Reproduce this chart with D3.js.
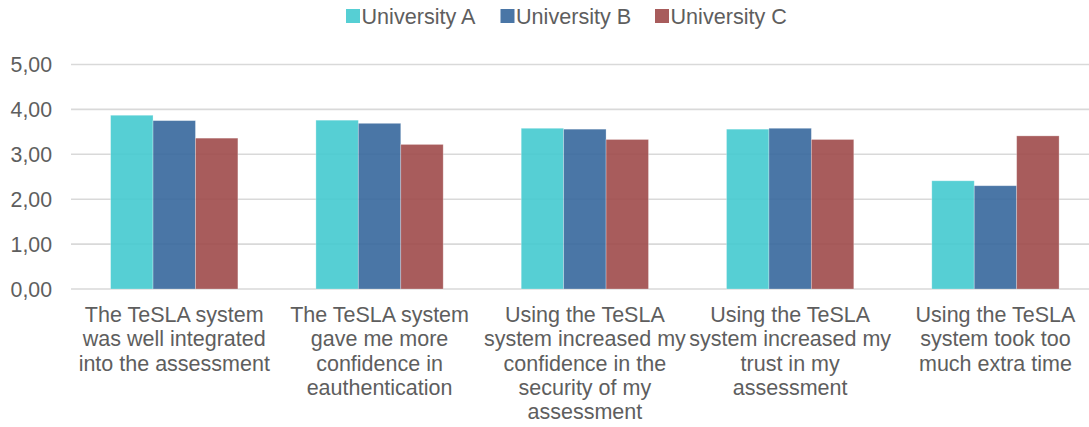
<!DOCTYPE html>
<html><head><meta charset="utf-8">
<script src="https://cdn.jsdelivr.net/npm/d3@7/dist/d3.min.js"></script>
<style>
html,body{margin:0;padding:0;background:#fff;}
svg text{font-family:"Liberation Sans",Arial,sans-serif;fill:#5e5e5e;}
</style></head>
<body>
<svg id="chart" width="1089" height="427"></svg>
<script>
const categories = [
  ["The TeSLA system","was well integrated","into the assessment"],
  ["The TeSLA system","gave me more","confidence in","eauthentication"],
  ["Using the TeSLA","system increased my","confidence in the","security of my","assessment"],
  ["Using the TeSLA","system increased my","trust in my","assessment"],
  ["Using the TeSLA","system took too","much extra time"]
];
const seriesNames = ["University A","University B","University C"];
const universityA = [3.87, 3.76, 3.58, 3.56, 2.41];
const universityB = [3.75, 3.69, 3.56, 3.58, 2.30];
const universityC = [3.36, 3.22, 3.33, 3.33, 3.41];
const yTicks = [0,1,2,3,4,5];
const colors = ["#44CACF","#36679C","#9E4A4A"];

const seriesValues = [universityA, universityB, universityC];
const svg = d3.select("#chart");
const idx = d3.range(categories.length);

const x0 = d3.scaleBand().domain(idx).range([71.6, 1098.1]).paddingInner(0.38).paddingOuter(0.19);
const x1 = d3.scaleBand().domain(d3.range(seriesNames.length)).range([0, x0.bandwidth()]);
const y = d3.scaleLinear().domain([0,5]).range([289, 64.5]);

// gridlines
svg.append("g").selectAll("line").data(yTicks).join("line")
  .attr("x1", 71).attr("x2", 1089)
  .attr("y1", d => y(d)).attr("y2", d => y(d))
  .attr("stroke", "#d9d9d9").attr("stroke-width", 1.6);

// y axis labels
const fmt = d => d3.format(".2f")(d).replace(".", ",");
svg.append("g").selectAll("text").data(yTicks).join("text")
  .attr("x", 52).attr("y", d => y(d)).attr("dy", "0.36em")
  .attr("text-anchor", "end").style("font-size", "21.3px")
  .text(fmt);

// bars
const groups = svg.append("g").selectAll("g").data(idx).join("g")
  .attr("transform", i => `translate(${x0(i)},0)`);
groups.selectAll("rect").data(i => seriesValues.map((s, k) => ({k, v: s[i]}))).join("rect")
  .attr("x", d => x1(d.k)).attr("width", x1.bandwidth())
  .attr("y", d => y(d.v)).attr("height", d => y(0) - y(d.v))
  .attr("fill", d => colors[d.k]).attr("fill-opacity", 0.9)
  .attr("stroke", "#ffffff").attr("stroke-opacity", 0.35).attr("stroke-width", 0.8);

// x labels
const xl = svg.append("g").selectAll("text").data(idx).join("text")
  .attr("text-anchor", "middle").style("font-size", "21.5px")
  .attr("transform", i => `translate(${x0(i) + x0.bandwidth()/2},322)`);
xl.selectAll("tspan").data(i => categories[i]).join("tspan")
  .attr("x", 0).attr("y", (d, j) => j * 24.3).text(d => d);

// legend
const legendX = [346, 500.5, 655];
const lg = svg.append("g").selectAll("g").data(seriesNames).join("g")
  .attr("transform", (d, k) => `translate(${legendX[k]},9)`);
lg.append("rect").attr("width", 14).attr("height", 14).attr("fill", (d, k) => colors[k]).attr("fill-opacity", 0.9);
lg.append("text").attr("x", 15.5).attr("y", 7).attr("dy", "0.36em")
  .style("font-size", "21.6px").text(d => d);
</script>
</body></html>
